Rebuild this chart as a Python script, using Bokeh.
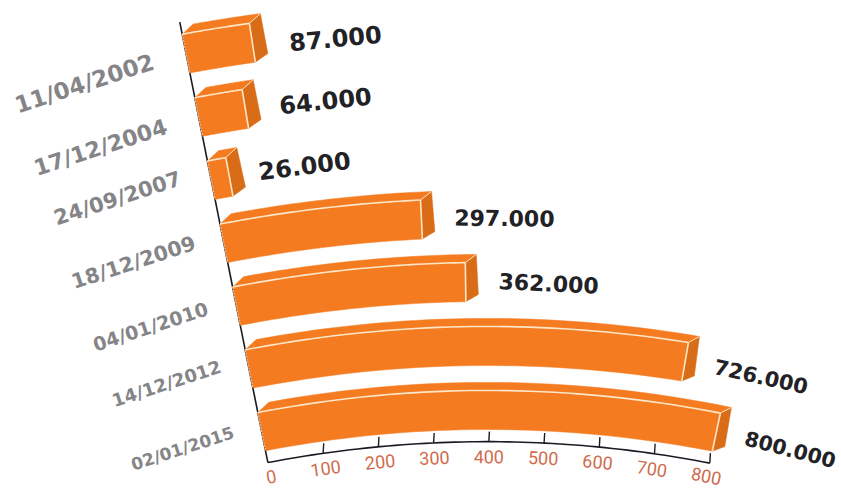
import math
import numpy as np
from bokeh.plotting import figure
from bokeh.models import Range1d
from bokeh.core.properties import value as V
from bokeh.embed import file_html
from bokeh.resources import INLINE

dates = ["11/04/2002", "17/12/2004", "24/09/2007", "18/12/2009", "04/01/2010", "14/12/2012", "02/01/2015"]
values = [87, 64, 26, 297, 362, 726, 800]
value_labels = ["87.000", "64.000", "26.000", "297.000", "362.000", "726.000", "800.000"]
ticks = [0, 100, 200, 300, 400, 500, 600, 700, 800]

# layout of the warped value/row surface
XC = 487
def s_(t): return 0.5585 + 0.0323 * t
def x0_(t): return 265 - 12.6 * t
def vy_(t): return 429 - 64 * t
def k_(t): return 0.00043 - 0.00002 * t
def warp(v, t):
    x = x0_(t) + s_(t) * np.asarray(v, dtype=float)
    return x, vy_(t) + k_(t) * (x - XC) ** 2
def slope(x, t): return 2 * k_(t) * (x - XC)

H = 0.61
AX = -0.19
FRONT, SIDE, TOP, EDGE = "#F47B20", "#D96C17", "#F47B20", "#FCE6C8"

p = figure(width=841, height=488, x_range=Range1d(0, 841), y_range=Range1d(488, 0),
           output_backend="svg", toolbar_location=None, min_border=0)
p.axis.visible = False
p.grid.visible = False
p.outline_line_color = None
p.background_fill_color = "white"
p.border_fill_color = "white"

AXC = "#1B1B24"
tt = np.linspace(AX, 6.8, 40)
lx = np.array([warp(0, a)[0] for a in tt], dtype=float)
ly = np.array([warp(0, a)[1] for a in tt], dtype=float)
p.line(lx, ly, line_color=AXC, line_width=1.6)
vv = np.linspace(0, 800, 60)
ax, ay = warp(vv, AX)
p.line(ax, ay, line_color=AXC, line_width=1.6)
tx, ty = warp(np.array(ticks, dtype=float), AX)
p.segment(tx[1:], ty[1:], tx[1:] + 0.6, ty[1:] - 10, line_color=AXC, line_width=1.4)

offs = [14, 15, 15, 15, 15, 15, 15, 15, 13]
for v, x, y, o in zip(ticks, tx, ty, offs):
    sl = slope(x, AX)
    a = -math.atan(sl)
    p.text([x - 18 * sl], [y + o], text=[str(v)], text_font=V("Roboto"), text_font_size="18px",
           text_color="#CF6B4C", text_align="center", text_baseline="middle", angle=[a])

dx_ = [84, 100, 117, 133, 150, 166, 182]
dy_ = [83, 147, 198, 262, 326, 383, 448]
fs = [23, 22, 21, 20.5, 19, 18, 17]
for d, x, y, f in zip(dates, dx_, dy_, fs):
    p.text([x], [y], text=[d], text_font=V("DejaVu Sans"), text_font_style="bold", text_font_size=f"{f}px",
           text_color="#858588", text_align="center", text_baseline="middle", angle=[math.radians(18)])

gaps = [83, 80, 75, 83, 83, 76, 74]
vsize = [24, 24, 24, 22, 22, 21, 20.5]
vnudge = [5, 2, 0, 0, 0, 0, 0]
for i, (val, lab) in enumerate(zip(values, value_labels)):
    r = 6 - i
    v = np.linspace(0, val, 40)
    xt, yt = warp(v, r + H)
    xb, yb = warp(v, r)
    sl = slope(xt, r + H)
    ox, oy = 11.0, -8 + 12 * sl
    p.patch(np.r_[xt, (xt + ox)[::-1]], np.r_[yt, (yt + oy)[::-1]], fill_color=TOP, line_color=TOP, line_width=0.5)
    p.patch([xt[-1], xt[-1] + ox, xb[-1] + ox + 1.5, xb[-1]],
            [yt[-1], yt[-1] + oy[-1], yb[-1] + oy[-1] + 1, yb[-1]],
            fill_color=SIDE, line_color=SIDE, line_width=0.5)
    p.patch(np.r_[xt, xb[::-1]], np.r_[yt, yb[::-1]], fill_color=FRONT, line_color=FRONT, line_width=0.5)
    p.line(xt, yt, line_color=EDGE, line_width=1.6)
    p.line([xt[-1], xb[-1]], [yt[-1], yb[-1]], line_color=EDGE, line_width=1.6)
    p.line([xt[-1], xt[-1] + ox], [yt[-1], yt[-1] + oy[-1]], line_color=EDGE, line_width=1)
    p.line([xt[0], xb[0]], [yt[0], yb[0]], line_color=EDGE, line_width=0.8, line_dash="2 1")
    mx, my = warp(val, r + H / 2)
    g = gaps[i]
    a = slope(mx + g / 2, r + H / 2)
    p.text([mx + g], [my + g * a + vnudge[i]], text=[lab], text_font=V("DejaVu Sans"), text_font_style="bold",
           text_font_size=f"{vsize[i]}px", text_color="#222226", text_align="center", text_baseline="middle",
           angle=[-math.atan(slope(mx + g, r + H / 2))])

open("out.html", "w").write(file_html(p, INLINE))
